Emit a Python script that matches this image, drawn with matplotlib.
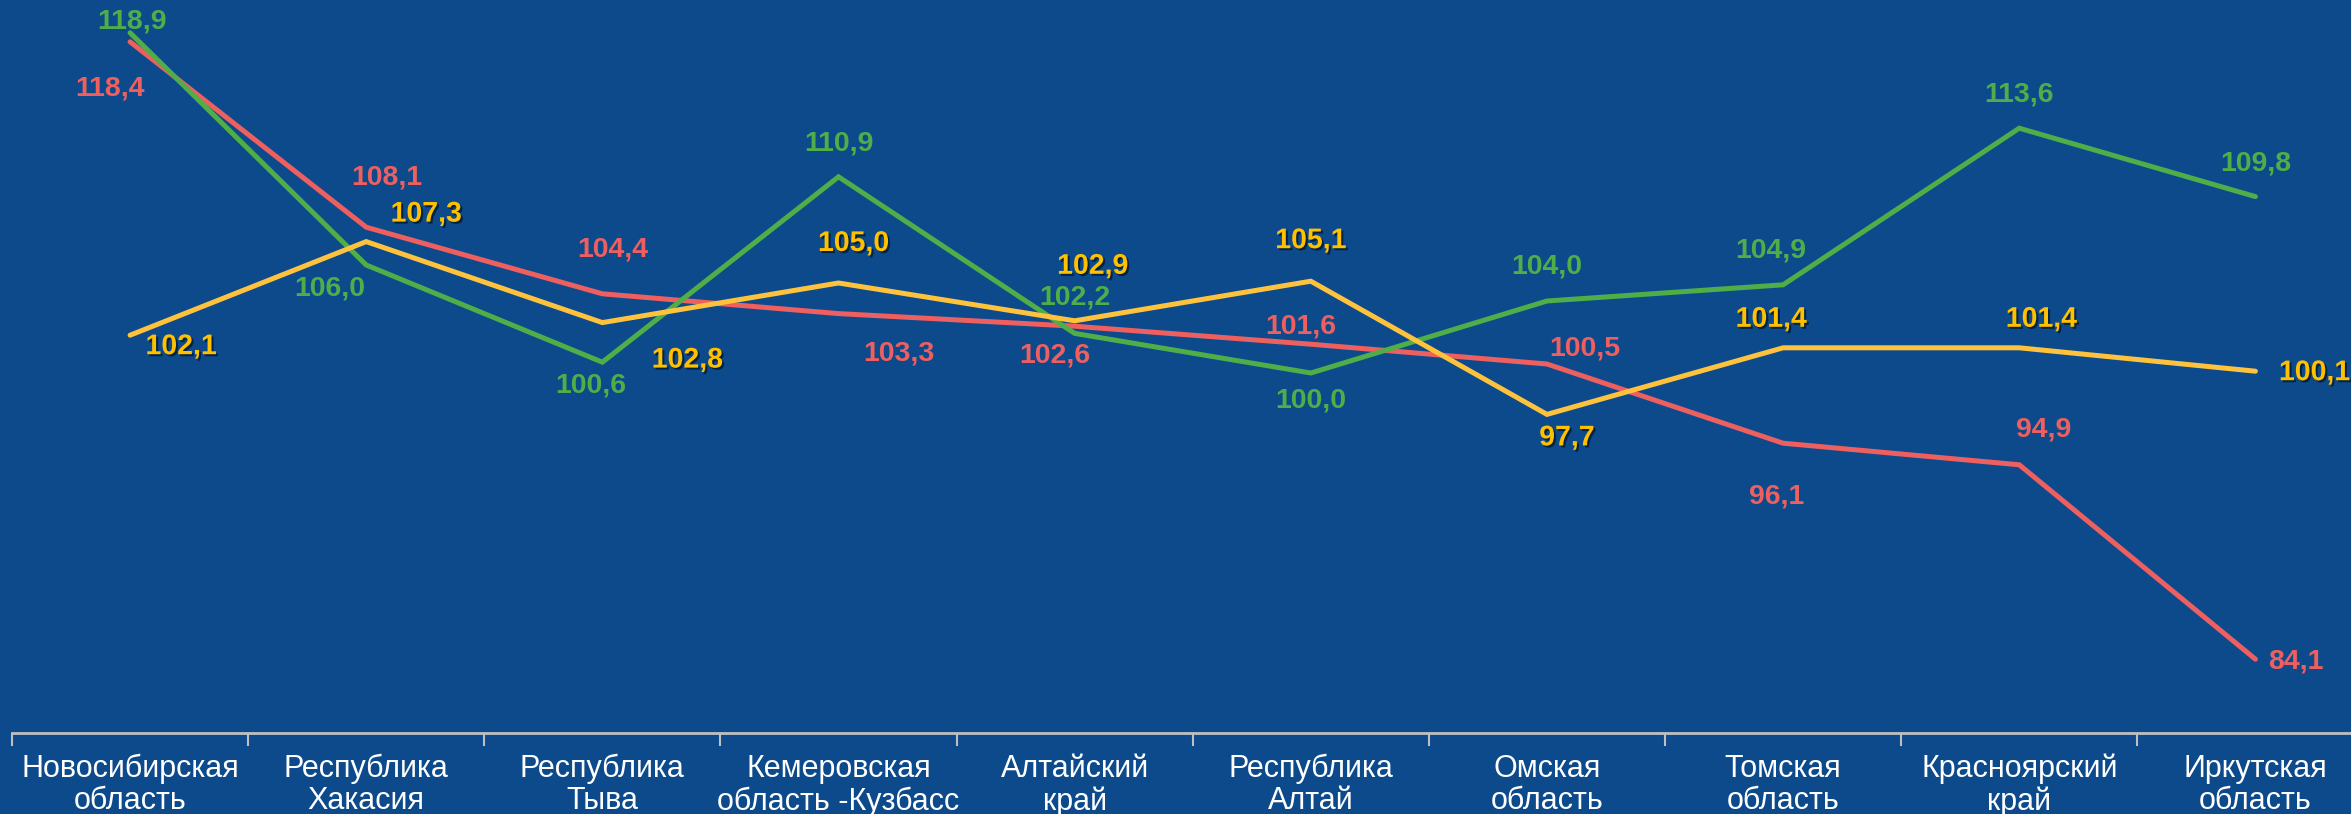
import numpy as np
import matplotlib.pyplot as plt
import matplotlib.patheffects as pe

plt.rcParams['font.family'] = ['Liberation Sans', 'DejaVu Sans']

# данные
regions = ['Новосибирская\nобласть', 'Республика\nХакасия', 'Республика\nТыва',
           'Кемеровская\nобласть -Кузбасс', 'Алтайский\nкрай', 'Республика\nАлтай',
           'Омская\nобласть', 'Томская\nобласть', 'Красноярский\nкрай', 'Иркутская\nобласть']
red_vals = [118.4, 108.1, 104.4, 103.3, 102.6, 101.6, 100.5, 96.1, 94.9, 84.1]
green_vals = [118.9, 106.0, 100.6, 110.9, 102.2, 100.0, 104.0, 104.9, 113.6, 109.8]
yellow_vals = [102.1, 107.3, 102.8, 105.0, 102.9, 105.1, 97.7, 101.4, 101.4, 100.1]

# смещения подписей (пиксели)
red_off = [(-20, -47), (21, 50), (10, 44), (60, -40), (-20, -29), (-10, 18), (38, 15), (-6, -53), (24, 35), (40, -2)]
green_off = [(2, 11), (-36, -24), (-12, -23), (0, 33), (0, 36), (0, -28), (0, 34), (-12, 34), (0, 34), (0, 33)]
yellow_off = [(51, -12), (60, 27), (85, -38), (15, 39), (18, 54), (0, 40), (20, -24), (-12, 28), (22, 28), (59, -2)]

bg = '#0C4A8C'
c_red = '#EE5F5F'
c_green = '#4FAE48'
c_yellow = '#FFC23C'
c_ylab = '#FFC000'

fig = plt.figure(figsize=(23.51, 8.14), dpi=100, facecolor=bg)
ax = fig.add_axes([12 / 2351, 81 / 814, 2361.5 / 2351, 720 / 814])
ax.set_facecolor(bg)

x = np.arange(len(regions))
for vals, col in [(red_vals, c_red), (green_vals, c_green), (yellow_vals, c_yellow)]:
    ax.plot(x, vals, color=col, lw=3.6, solid_capstyle='round', solid_joinstyle='miter')

def fmt(v):
    return f'{v:.1f}'.replace('.', ',')

for vals, offs, col, shadow in [(red_vals, red_off, c_red, False),
                                (green_vals, green_off, c_green, False),
                                (yellow_vals, yellow_off, c_ylab, True)]:
    for i, v in enumerate(vals):
        t = ax.annotate(fmt(v), (i, v), xytext=offs[i], textcoords='offset pixels',
                        ha='center', va='center', color=col, fontsize=20.5,
                        fontweight='bold', annotation_clip=False)
        if shadow:
            t.set_path_effects([pe.SimplePatchShadow(offset=(1.5, -1.5), shadow_rgbFace='black', alpha=0.5),
                                pe.Normal()])

ax.set_xlim(-0.5, len(regions) - 0.5)
ax.set_ylim(80, 120)
ax.set_yticks([])
ax.set_xticks(x)
ax.set_xticklabels(regions, color='white', fontsize=22, linespacing=1.1)
ax.set_xticks(np.arange(-0.5, len(regions), 1), minor=True)
ax.tick_params(axis='x', which='major', length=0, pad=15)
ax.tick_params(axis='x', which='minor', length=9, width=1.5, color='#BFBFBF')
for s in ['top', 'right', 'left']:
    ax.spines[s].set_visible(False)
ax.spines['bottom'].set_color('#BFBFBF')
ax.spines['bottom'].set_linewidth(2)

fig.savefig('out.png', dpi=100, facecolor=bg)
